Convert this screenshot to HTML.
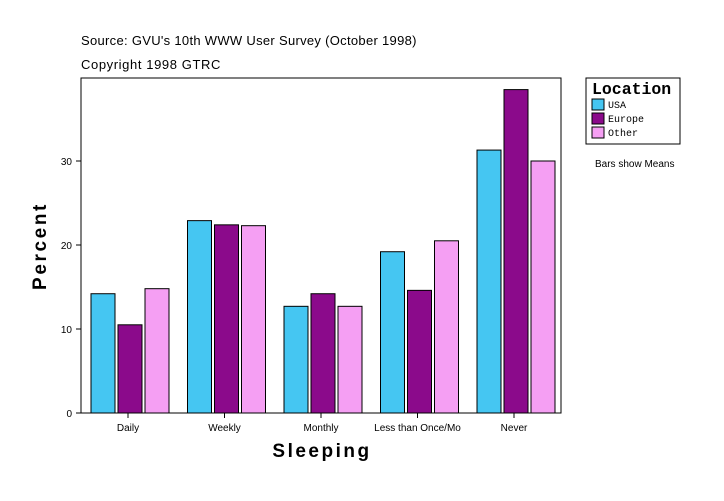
<!DOCTYPE html>
<html><head><meta charset="utf-8"><style>
body{margin:0;background:#fff;width:724px;height:496px;overflow:hidden;font-family:"Liberation Sans",sans-serif}
</style></head><body>
<svg id="c" width="724" height="496" xmlns="http://www.w3.org/2000/svg">
<text x="81" y="45" font-size="13" letter-spacing="0.3">Source: GVU's 10th WWW User Survey (October 1998)</text>
<text x="81" y="69" font-size="13" letter-spacing="0.6">Copyright 1998 GTRC</text>
<rect x="81" y="78" width="480" height="335" fill="#fff" stroke="#000"/>
<text transform="translate(46,246) rotate(-90)" text-anchor="middle" font-size="19" font-weight="bold" letter-spacing="2.6">Percent</text>
<text x="322" y="457" text-anchor="middle" font-size="19" font-weight="bold" letter-spacing="2.5">Sleeping</text>
<g>
<rect x="586" y="78" width="94" height="66" fill="#fff" stroke="#000"/>
<text x="592" y="94" font-family="Liberation Mono,monospace" font-size="16.5" font-weight="bold">Location</text>
<g><rect x="592" y="99" width="12" height="11" fill="#45c6f2" stroke="#000"/><text x="608" y="108" font-family="Liberation Mono,monospace" font-size="10">USA</text></g>
<g><rect x="592" y="113" width="12" height="11" fill="#8b0a8b" stroke="#000"/><text x="608" y="122" font-family="Liberation Mono,monospace" font-size="10">Europe</text></g>
<g><rect x="592" y="127" width="12" height="11" fill="#f59ff3" stroke="#000"/><text x="608" y="136" font-family="Liberation Mono,monospace" font-size="10">Other</text></g>
</g>
<text x="595" y="167" font-size="10">Bars show Means</text>
<g id="marks"></g>
</svg>
<script>
const categories=["Daily","Weekly","Monthly","Less than Once/Mo","Never"];
const usa=[14.2,22.9,12.7,19.2,31.3];
const europe=[10.5,22.4,14.2,14.6,38.5];
const other=[14.8,22.3,12.7,20.5,30.0];
const yTicks=[0,10,20,30];
const NS="http://www.w3.org/2000/svg";
const g=document.getElementById('marks');
const y=v=>413-v*8.4;
const xc=i=>128+i*96.5;
function mk(t,a){const e=document.createElementNS(NS,t);for(const k in a)e.setAttribute(k,a[k]);g.appendChild(e);return e;}
yTicks.forEach(t=>{
 const l=mk('line',{x1:76,x2:81,y1:y(t),y2:y(t),stroke:'#000'});
 
 
 const tx=mk('text',{x:72,y:y(t)+4,'text-anchor':'end','font-size':10});tx.textContent=t;
 
 
});
const series=[[usa,'#45c6f2','usa'],[europe,'#8b0a8b','europe'],[other,'#f59ff3','other']];
categories.forEach((c,i)=>{
 const l=mk('line',{x1:xc(i),x2:xc(i),y1:413,y2:418,stroke:'#000'});
 
 
 const tx=mk('text',{x:xc(i),y:431,'text-anchor':'middle','font-size':10});tx.textContent=c;
 
 
 series.forEach((s,j)=>{
  const v=s[0][i];
  const r=mk('rect',{x:xc(i)-37+j*27,y:y(v),width:24,height:v*8.4,fill:s[1],stroke:'#000'});
  
  
 });
});
</script>
</body></html>
